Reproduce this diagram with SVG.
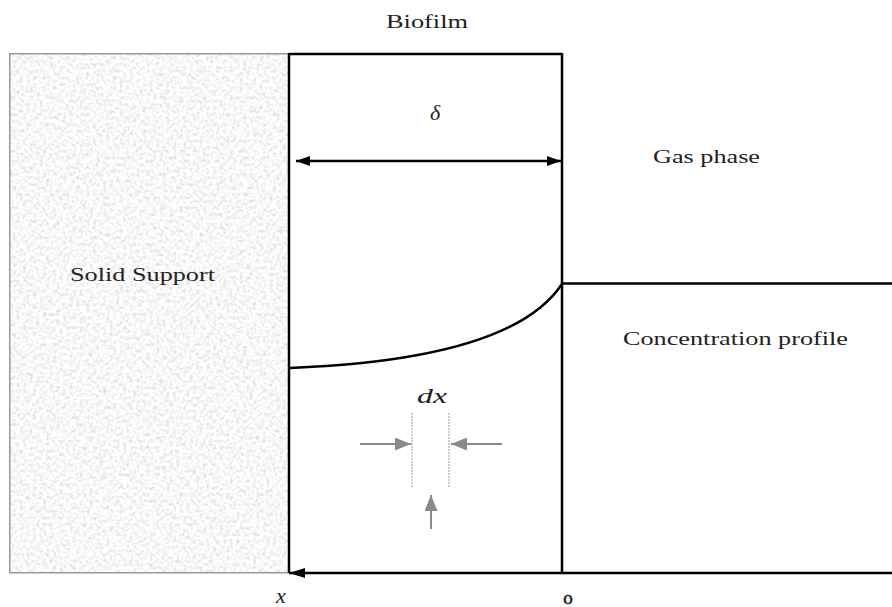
<svg xmlns="http://www.w3.org/2000/svg" width="892" height="607" viewBox="0 0 892 607">
<style>
.t{font-family:"Liberation Serif","Times New Roman",serif;font-size:19px;fill:#222}
.m{font-family:"Liberation Serif","Times New Roman",serif;font-style:italic;font-size:22px;fill:#222}
.ln{stroke:#000;stroke-width:2.5;fill:none}
.g{stroke:#8a8a8a;stroke-width:2;fill:none}
.d{stroke:#999;stroke-width:1;stroke-dasharray:2 1;fill:none}
</style>
<defs>
<filter id="noise" x="9" y="53" width="280" height="520" filterUnits="userSpaceOnUse">
<feTurbulence type="fractalNoise" baseFrequency="0.3" numOctaves="3" seed="4"/>
<feColorMatrix type="saturate" values="0"/>
<feComponentTransfer>
<feFuncR type="linear" slope="0.8" intercept="0.54"/>
<feFuncG type="linear" slope="0.8" intercept="0.54"/>
<feFuncB type="linear" slope="0.8" intercept="0.54"/>
<feFuncA type="linear" slope="0" intercept="1"/>
</feComponentTransfer>
</filter>
<marker id="ah" viewBox="0 0 14 10" refX="14" refY="5" markerWidth="14" markerHeight="10" markerUnits="userSpaceOnUse" orient="auto-start-reverse">
<path d="M0,0 L14,5 L0,10 Z" fill="#000"/>
</marker>
<marker id="ab" viewBox="0 0 16 10" refX="16" refY="5" markerWidth="16" markerHeight="10" markerUnits="userSpaceOnUse" orient="auto">
<path d="M0,0 L16,5 L0,10 Z" fill="#000"/>
</marker>
<marker id="ag" viewBox="0 0 16 13" refX="16" refY="6.5" markerWidth="16" markerHeight="13" markerUnits="userSpaceOnUse" orient="auto">
<path d="M0,0 L16,6.5 L0,13 Z" fill="#8a8a8a"/>
</marker>
</defs>
<rect width="892" height="607" fill="#fff"/>
<g id="solid-support">
<rect x="9" y="53" width="280" height="520" fill="#eee" filter="url(#noise)"/>
<rect x="9.75" y="53.75" width="279" height="519" fill="none" stroke="#999" stroke-width="1.5"/>
<text class="t" x="70" y="281" textLength="145" lengthAdjust="spacingAndGlyphs">Solid Support</text>
</g>
<g id="biofilm">
<path class="ln" d="M289,54 L562,54 M289,53 L289,573 M562,53 L562,573"/>
<text class="t" x="386" y="28" textLength="82" lengthAdjust="spacingAndGlyphs">Biofilm</text>
<text class="m" x="435" y="120" text-anchor="middle">δ</text>
</g>
<g id="gas-phase">
<text class="t" x="653" y="163" textLength="107" lengthAdjust="spacingAndGlyphs">Gas phase</text>
<text class="t" x="623" y="345" textLength="225" lengthAdjust="spacingAndGlyphs">Concentration profile</text>
</g>
<g id="element">
<text class="m" x="417" y="403" textLength="30" lengthAdjust="spacingAndGlyphs">dx</text>
<path class="d" d="M412,413 L412,488 M449,413 L449,488"/>
</g>
<g id="connectors">
<path class="ln" stroke-width="2" d="M296,161 L561,161" marker-start="url(#ah)" marker-end="url(#ah)"/>
<path class="ln" d="M562,283.5 L892,283.5"/>
<path class="ln" d="M290,368 C420,363 525,340 562,284"/>
<path class="ln" d="M892,573 L289,573" marker-end="url(#ab)"/>
<path class="g" d="M360,444 L411,444" marker-end="url(#ag)"/>
<path class="g" d="M502,444 L451,444" marker-end="url(#ag)"/>
<path class="g" d="M431,529 L431,495" marker-end="url(#ag)"/>
</g>
<g id="axis-labels">
<text class="m" x="281" y="603" text-anchor="middle">x</text>
<text class="t" x="568" y="604" text-anchor="middle" font-size="23" stroke="#222" stroke-width="0.6">o</text>
</g>
</svg>
